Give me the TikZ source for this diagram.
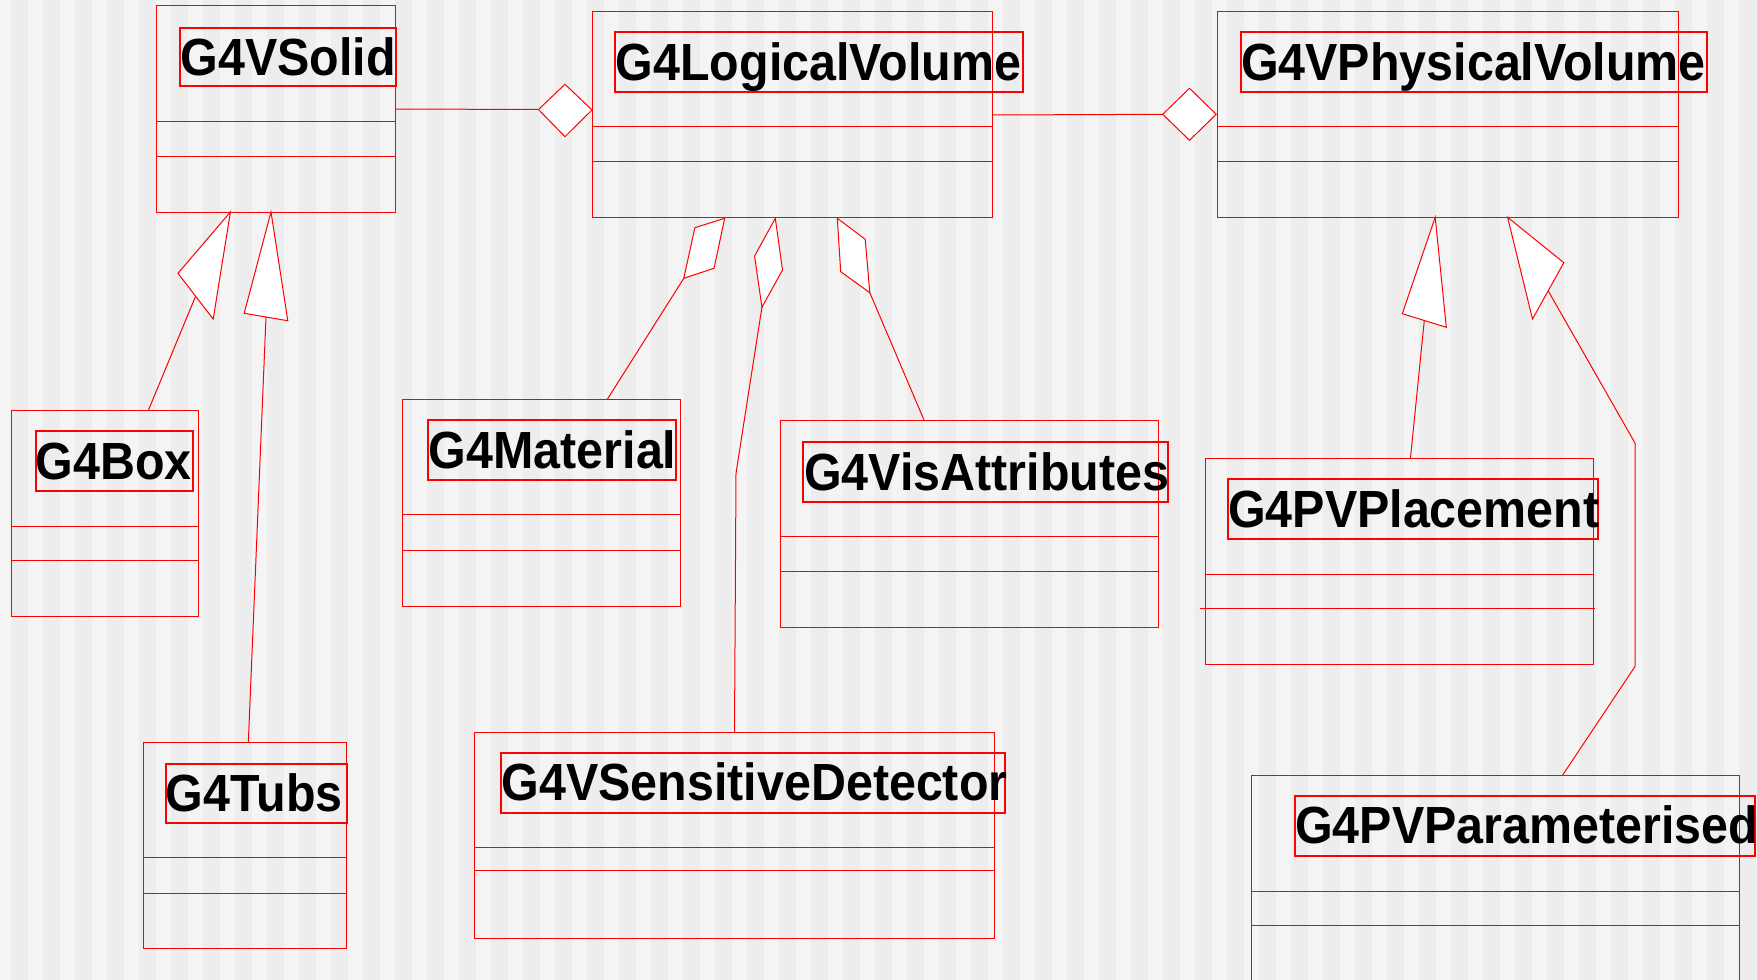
\documentclass[tikz,border=0pt]{standalone}
\usepackage{fontspec}
\setmainfont{Liberation Sans}
\definecolor{bglight}{HTML}{F4F4F4}
\definecolor{bgdark}{HTML}{EDEDED}
\newcommand\cnm[1]{\scalebox{1}[1.08]{#1}}
\begin{document}
\begin{tikzpicture}[x=1pt,y=-1pt,
  cls/.style={draw=red,line width=1pt},
  lbl/.style={draw=red,line width=2pt},
  conn/.style={draw=red,line width=1pt},
  head/.style={draw=red,fill=white,line width=1pt,line join=miter},
  cname/.style={anchor=base west,inner sep=0pt,font=\fontsize{48.4}{58}\selectfont\bfseries}]
\useasboundingbox (0,0) rectangle (1757,980);
\clip (0,0) rectangle (1757,980);
\fill[bglight] (0,0) rectangle (1757,980);
\foreach \i in {0,...,54} \fill[bgdark] ({11+32*\i},0) rectangle ({27.5+32*\i},980);

% ---------- class boxes ----------
% G4VSolid
\draw[cls] (156.5,5.7) rectangle (395.3,212);
\draw[cls] (156.5,121) -- (395.3,121) (156.5,156.7) -- (395.3,156.7);
\draw[lbl] (179.7,27.7) rectangle (395.7,86);
\node[cname] (vsolid) at (180.3,75) {\cnm{G4VSolid}};
% G4LogicalVolume
\draw[cls] (592,11) rectangle (992.6,217.3);
\draw[cls] (592,126.7) -- (992.6,126.7) (592,161.7) -- (992.6,161.7);
\draw[lbl] (614.9,32) rectangle (1023.2,91.7);
\node[cname] (logvol) at (615.6,80) {\cnm{G4LogicalVolume}};
% G4VPhysicalVolume
\draw[cls] (1217.4,11) rectangle (1678.8,217.3);
\draw[cls] (1217.4,126.7) -- (1678.8,126.7) (1217.4,161.7) -- (1678.8,161.7);
\draw[lbl] (1240.6,32) rectangle (1706.7,91.7);
\node[cname] (physvol) at (1240.9,80) {\cnm{G4VPhysicalVolume}};
% G4Box
\draw[cls] (11.5,410) rectangle (198.2,616);
\draw[cls] (11.5,526) -- (198.2,526) (11.5,560.7) -- (198.2,560.7);
\draw[lbl] (35.6,431) rectangle (193.3,491.3);
\node[cname] (box) at (35.5,479) {\cnm{G4Box}};
% G4Tubs
\draw[cls] (143.7,742.7) rectangle (346.7,948.7);
\draw[cls] (143.7,857.7) -- (346.7,857.7) (143.7,893.7) -- (346.7,893.7);
\draw[lbl] (165.7,763.7) rectangle (346.7,823.3);
\node[cname] (tubs) at (165.7,811) {\cnm{G4Tubs}};
% G4Material
\draw[cls] (402.7,399.3) rectangle (680.3,606);
\draw[cls] (402.7,514.3) -- (680.3,514.3) (402.7,550.3) -- (680.3,550.3);
\draw[lbl] (428,420) rectangle (676,480);
\node[cname] (material) at (428.7,468.3) {\cnm{G4Material}};
% G4VisAttributes
\draw[cls] (780.7,420) rectangle (1158.7,627);
\draw[cls] (780.7,536.3) -- (1158.7,536.3) (780.7,571) -- (1158.7,571);
\draw[lbl] (803,441.7) rectangle (1168.3,501.7);
\node[cname] (visatt) at (804,490) {\cnm{G4VisAttributes}};
% G4VSensitiveDetector
\draw[cls] (474.9,732) rectangle (994.2,938.3);
\draw[cls] (474.9,847.3) -- (994.2,847.3) (474.9,870.7) -- (994.2,870.7);
\draw[lbl] (500.9,752.7) rectangle (1004.9,812.7);
\node[cname] (sensdet) at (501.6,800) {\cnm{G4VSensitiveDetector}};
% G4PVPlacement
\draw[cls] (1205.4,458.6) rectangle (1593.2,664.9);
\draw[cls] (1205.4,574.2) -- (1593.2,574.2) (1199.5,608.1) -- (1595.2,608.1);
\draw[lbl] (1227.8,479.3) rectangle (1598.3,539.2);
\node[cname] (placement) at (1228,527) {\cnm{G4PVPlacement}};
% G4PVParameterised
\draw[cls] (1251.8,775.6) rectangle (1739.6,1000);
\draw[cls] (1251.8,891.2) -- (1739.6,891.2) (1251.8,925.9) -- (1739.6,925.9);
\draw[lbl] (1294.8,795.9) rectangle (1755,855.9);
\node[cname] (param) at (1295,843.8) {\cnm{G4PVParameterised}};

% ---------- attachment points ----------
\coordinate (solidR) at (395.3,109);
\coordinate (d1L) at (538.5,109.5);
\coordinate (logR) at (992.6,115);
\coordinate (d2L) at (1162.8,114.3);
\coordinate (boxT) at (148.5,410);
\coordinate (t1M) at (195.6,296.2);
\coordinate (tubsT) at (248.3,742.7);
\coordinate (t2M) at (266,317);
\coordinate (placeT) at (1410.4,458.6);
\coordinate (t3M) at (1424.3,320.5);
\coordinate (paramT) at (1562.3,775.6);
\coordinate (t4M) at (1548.2,290.9);
\coordinate (matT) at (607.3,399.3);
\coordinate (r1E) at (683.8,278.3);
\coordinate (sensT) at (734.5,732);
\coordinate (r2E) at (761.9,307.3);
\coordinate (visT) at (924,420);
\coordinate (r3E) at (869.8,292.7);

% ---------- connectors ----------
\draw[conn] (solidR) -- (d1L);
\draw[conn] (logR) -- (d2L);
\draw[conn] (boxT) -- (t1M);
\draw[conn] (tubsT) -- (t2M);
\draw[conn] (placeT) -- (t3M);
\draw[conn] (paramT) -- (1635,666.5) -- (1635,443) -- (t4M);
\draw[conn] (matT) -- (r1E);
\draw[conn] (sensT) -- (736,473.3) -- (r2E);
\draw[conn] (visT) -- (r3E);

% ---------- heads ----------
\filldraw[head] (d1L) -- (565,84.3) -- (592,110) -- (565,136.7) -- cycle;
\filldraw[head] (d2L) -- (1189.5,88.3) -- (1216.2,114.3) -- (1189.5,140.3) -- cycle;
\filldraw[head] (230.4,212) -- (178,273.3) -- (213.2,319) -- cycle;
\filldraw[head] (271,212) -- (244.2,313.3) -- (287.8,320.7) -- cycle;
\filldraw[head] (1435.2,217.3) -- (1402.3,313.7) -- (1446.3,327.3) -- cycle;
\filldraw[head] (1507.6,217.3) -- (1563.8,262.7) -- (1532.5,319) -- cycle;
\filldraw[head] (724.7,218.3) -- (694.9,227.7) -- (r1E) -- (714,268.3) -- cycle;
\filldraw[head] (775.3,218.3) -- (754.6,256) -- (r2E) -- (782.5,270) -- cycle;
\filldraw[head] (837.3,218.3) -- (865.2,239.3) -- (r3E) -- (840.7,271.7) -- cycle;
\end{tikzpicture}
\end{document}
